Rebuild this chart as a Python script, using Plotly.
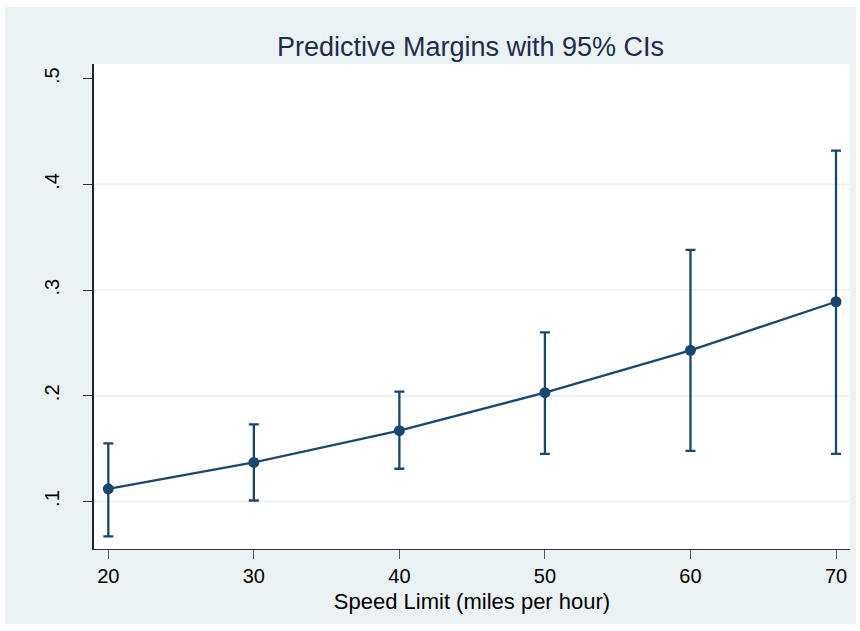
import plotly.graph_objects as go

# Predictive margins of the outcome by speed limit, with 95% confidence limits
speed_limits = [20, 30, 40, 50, 60, 70]
margins = [0.112, 0.137, 0.167, 0.203, 0.243, 0.289]
ci_low = [0.067, 0.101, 0.131, 0.145, 0.148, 0.145]
ci_high = [0.155, 0.173, 0.204, 0.260, 0.338, 0.432]

x_ticks = [20, 30, 40, 50, 60, 70]
y_ticks = [0.1, 0.2, 0.3, 0.4, 0.5]
y_tick_text = [".1", ".2", ".3", ".4", ".5"]
grid_levels = [0.1, 0.2, 0.3, 0.4]

NAVY = "#1A476F"
BLUISH_GRAY = "#EAF2F3"
FONT = "Liberation Sans, Arial, sans-serif"

W, H = 860, 631
ML, MR, MT, MB = 94, 10, 64, 82
pw, ph = W - ML - MR, H - MT - MB

fig = go.Figure()
fig.add_trace(go.Scatter(
    x=speed_limits,
    y=margins,
    mode="lines+markers",
    line=dict(color=NAVY, width=2.3),
    marker=dict(color=NAVY, size=11),
    error_y=dict(
        type="data",
        symmetric=False,
        array=[h - m for h, m in zip(ci_high, margins)],
        arrayminus=[m - l for m, l in zip(margins, ci_low)],
        color=NAVY,
        thickness=2.3,
        width=5,
    ),
    showlegend=False,
))

# graph region background and white plot region
shapes = [
    dict(type="rect", xref="paper", yref="paper", layer="below",
         x0=(5 - ML) / pw, x1=(856 - ML) / pw,
         y0=(MT + ph - 624) / ph, y1=(MT + ph - 7) / ph,
         fillcolor=BLUISH_GRAY, line=dict(width=0)),
    dict(type="rect", xref="paper", yref="paper", layer="below",
         x0=0, x1=1, y0=0, y1=1, fillcolor="white", line=dict(width=0)),
]
for g in grid_levels:
    shapes.append(dict(type="line", xref="paper", yref="y", layer="below",
                       x0=0, x1=1, y0=g, y1=g,
                       line=dict(color=BLUISH_GRAY, width=1.6)))

fig.update_layout(
    width=W,
    height=H,
    margin=dict(l=ML, r=MR, t=MT, b=MB),
    paper_bgcolor="white",
    plot_bgcolor="white",
    shapes=shapes,
    font=dict(family=FONT, color="black"),
    title=dict(
        text="Predictive Margins with 95% CIs",
        font=dict(family=FONT, size=27, color="#1C2D4F"),
        x=(470.5 - ML) / pw, xref="paper", xanchor="center",
        y=1 - 47 / H, yref="container", yanchor="middle",
    ),
    xaxis=dict(
        range=[19.017, 70.962],
        tickmode="array",
        tickvals=x_ticks,
        ticks="outside",
        ticklen=9,
        tickwidth=1.3,
        tickcolor="#555555",
        tickfont=dict(size=20, family=FONT),
        showgrid=False,
        zeroline=False,
        showline=True,
        linecolor="#333333",
        linewidth=1.3,
        title=dict(text="Speed Limit (miles per hour)",
                   font=dict(size=22, family=FONT), standoff=7),
    ),
    yaxis=dict(
        range=[0.0551, 0.5139],
        tickmode="array",
        tickvals=y_ticks,
        ticktext=y_tick_text,
        tickangle=-90,
        ticks="outside",
        ticklen=9,
        tickwidth=1.3,
        tickcolor="#333333",
        tickfont=dict(size=20, family=FONT),
        ticklabelstandoff=16,
        showgrid=False,
        zeroline=False,
        showline=True,
        linecolor="#222222",
        linewidth=1.5,
    ),
)

fig.write_html("out.html")
